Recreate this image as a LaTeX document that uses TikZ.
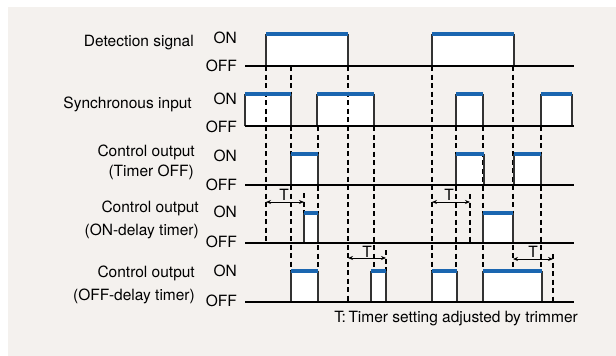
\documentclass[tikz,border=0pt]{standalone}
\usepackage{fontspec}
\setmainfont{TeX Gyre Heros}
\usetikzlibrary{arrows.meta}
\definecolor{panel}{RGB}{244,241,238}
\definecolor{onblue}{RGB}{26,102,176}

\begin{document}
\begin{tikzpicture}[x=1pt, y=-1pt,
  txt/.style={anchor=base east, inner sep=0pt, font=\fontsize{15.5}{18}\selectfont},
  tmark/.style={anchor=base, inner sep=0pt, font=\fontsize{15.5}{18}\selectfont},
  base/.style={line width=1.2pt},
  edge/.style={black!80, line width=1.2pt},
  guide/.style={line width=1.1pt, dash pattern=on 5pt off 3.5pt},
  onbar/.style={onblue, line width=3.5pt},
  tspan/.style={line width=1pt, {Stealth[length=5pt,width=4pt]}-{Stealth[length=5pt,width=4pt]}}]
\useasboundingbox (0,0) rectangle (616,356);
\fill[panel] (8,7) rectangle (616,356);

% pulses: left / right / ON level / OFF level
\foreach \a/\b/\t/\o in {266/348/34/66, 432/514/34/66,
    245/291/94/126, 317/374/94/126, 456/483/94/126, 541/572/94/126,
    291/318/154/185, 456/484/154/185, 514/541/154/185,
    304/318/213/243, 483/513/213/243,
    291/318/271/302, 371/386/271/302, 432/457/271/302, 483/542/271/302}
  \fill[white] (\a,\t) rectangle (\b,\o);

% guide lines
\foreach \x/\t/\o in {266/66/243, 291/66/271, 318/126/271, 348/66/302,
    374/126/271, 432/66/271, 456/126/271, 483/126/271, 513/66/271,
    541/126/271, 304/193/213, 386/250/271, 470/194/243, 553/254/302}
  \draw[guide] (\x,\t) -- (\x,\o);

\foreach \a/\b/\t/\o in {266/348/34/66, 432/514/34/66,
    245/291/94/126, 317/374/94/126, 456/483/94/126, 541/572/94/126,
    291/318/154/185, 456/484/154/185, 514/541/154/185,
    304/318/213/243, 483/513/213/243,
    291/318/271/302, 371/386/271/302, 432/457/271/302, 483/542/271/302}
{
  \draw[edge] (\a,\o) -- (\a,\t);
  \draw[edge] (\b,\t) -- (\b,\o);
}

% OFF lines
\foreach \o in {66,126,185,243,302}
  \draw[base] (245,\o) -- (574,\o);

\foreach \a/\b/\t in {266/348/34, 432/514/34,
    245/291/94, 317/374/94, 456/483/94, 541/572/94,
    291/318/154, 456/484/154, 514/541/154,
    304/318/213, 483/513/213,
    291/318/271, 371/386/271, 432/457/271, 483/542/271}
  \draw[onbar] (\a,\t) -- (\b,\t);

% timer spans
\coordinate (t1a) at (266,202); \coordinate (t1b) at (304,202);
\coordinate (t2a) at (432,202); \coordinate (t2b) at (470,202);
\coordinate (t3a) at (348,258); \coordinate (t3b) at (386,258);
\coordinate (t4a) at (513,259); \coordinate (t4b) at (553,259);
\draw[tspan] (t1a) -- (t1b);
\draw[tspan] (t2a) -- (t2b);
\draw[tspan] (t3a) -- (t3b);
\draw[tspan] (t4a) -- (t4b);
\node[tmark] (tl1) at (284,200) {T};
\node[tmark] (tl2) at (449,200) {T};
\node[tmark] (tl3) at (367,257) {T};
\node[tmark] (tl4) at (533,257) {T};

% signal names
\node[txt] (det) at (194,46) {Detection signal};
\node[txt] (sync) at (192,108) {Synchronous input};
\node[txt] (tmoff) at (195,156) {Control output};
\node[txt] (tmoffb) at (194,176.7) {(Timer OFF)};
\node[txt] (ondl) at (199,212.7) {Control output};
\node[txt] (ondlb) at (199,235) {(ON-delay timer)};
\node[txt] (offdl) at (195,277.7) {Control output};
\node[txt] (offdlb) at (195,300) {(OFF-delay timer)};

% levels
\node[txt] (on1) at (237,43) {ON};
\node[txt] (off1) at (237,71.7) {OFF};
\node[txt] (on2) at (237,104) {ON};
\node[txt] (off2) at (237,132.7) {OFF};
\node[txt] (on3) at (237,161.3) {ON};
\node[txt] (off3) at (237,190.7) {OFF};
\node[txt] (on4) at (237,217.3) {ON};
\node[txt] (off4) at (237,247.3) {OFF};
\node[txt] (on5) at (237,276.7) {ON};
\node[txt] (off5) at (237,306.7) {OFF};

\node[txt] (note) at (578,322.7) {T:\,Timer setting adjusted by trimmer};
\end{tikzpicture}
\end{document}
